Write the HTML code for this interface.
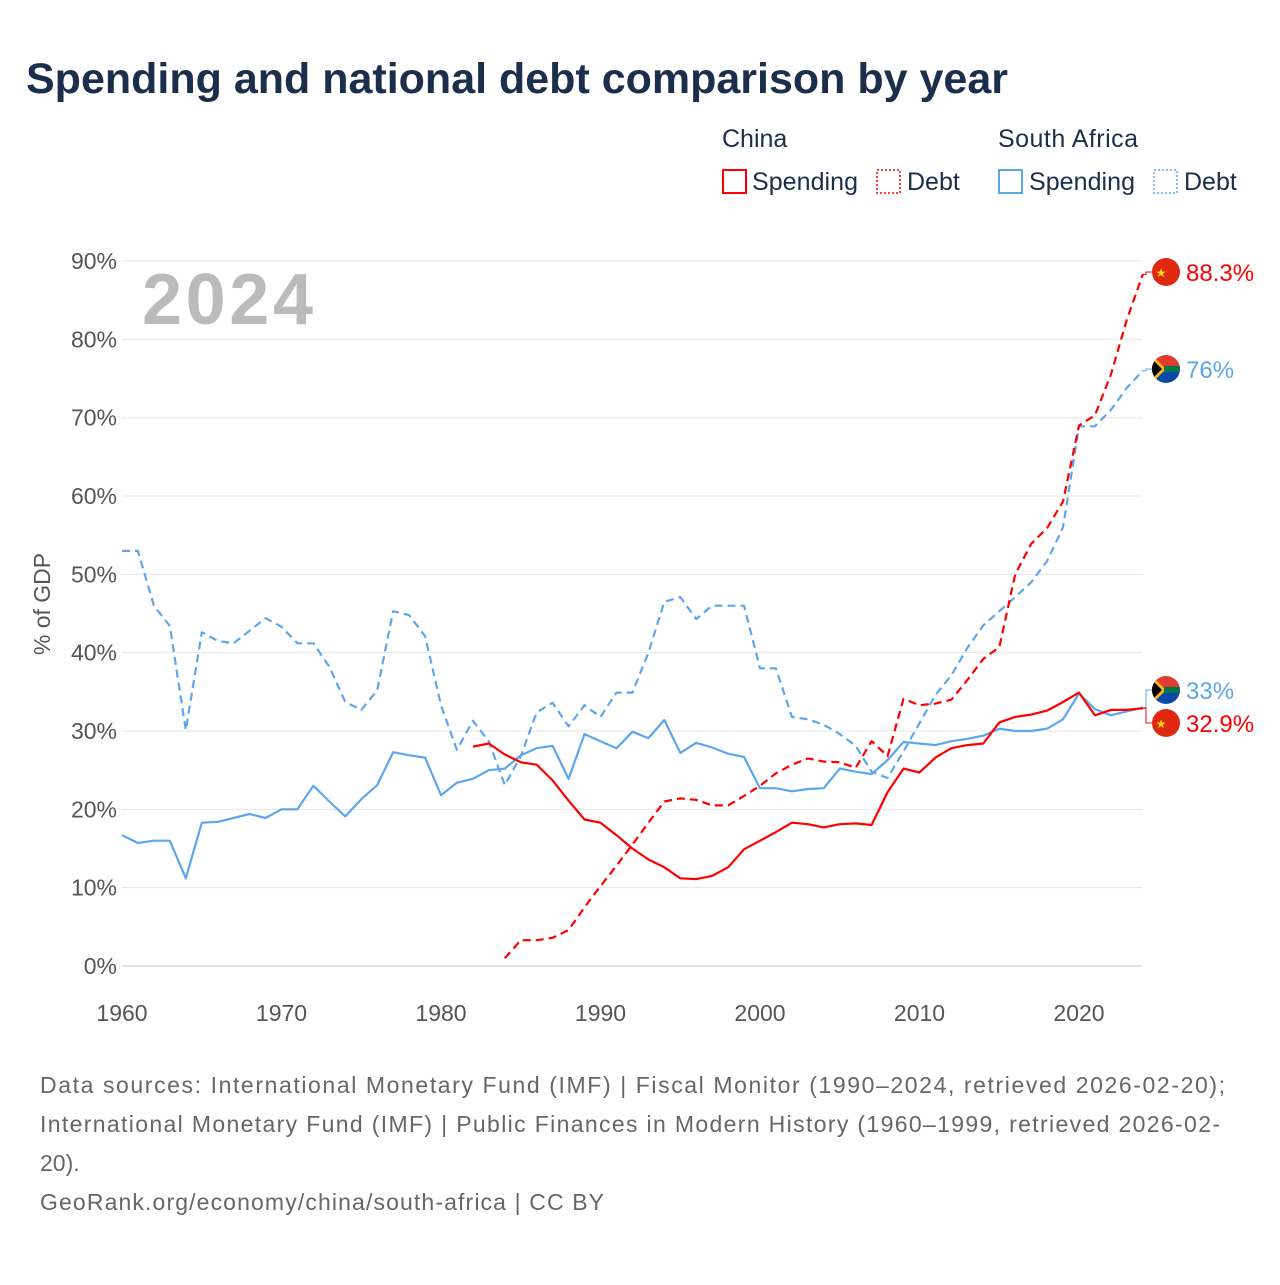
<!DOCTYPE html>
<html><head><meta charset="utf-8"><style>
body{margin:0;width:1280px;height:1280px;background:#fff;font-family:"Liberation Sans",sans-serif;overflow:hidden}
svg text{font-family:"Liberation Sans",sans-serif}
</style></head><body>
<svg id="chart" width="1280" height="1280" xmlns="http://www.w3.org/2000/svg">
<text x="26" y="93" font-size="43" font-weight="bold" fill="#1b2e4b">Spending and national debt comparison by year</text>
<g font-size="25" fill="#1b2e4b">
<text x="722" y="147" fill="#1b2e4b">China</text>
<text x="998" y="147" fill="#1b2e4b" textLength="140">South Africa</text>
<g><rect x="723" y="170" width="23" height="23" fill="none" stroke="#f00" stroke-width="2"/><text x="752" y="190" fill="#1b2e4b" textLength="106">Spending</text></g>
<g><rect x="877" y="170" width="23" height="23" fill="none" stroke="#f00" stroke-width="1.5" stroke-dasharray="2,2"/><text x="907" y="190" fill="#1b2e4b">Debt</text></g>
<g><rect x="999" y="170" width="23" height="23" fill="none" stroke="#5ea6ec" stroke-width="2"/><text x="1029" y="190" fill="#1b2e4b" textLength="106">Spending</text></g>
<g><rect x="1154" y="170" width="23" height="23" fill="none" stroke="#5ea6ec" stroke-width="1.5" stroke-dasharray="2,2"/><text x="1184" y="190" fill="#1b2e4b">Debt</text></g>
</g>
<g id="grid"></g>
<g id="yticks" font-size="23" fill="#555"></g>
<g id="xticks" font-size="23" fill="#555"></g>
<text x="142" y="324" font-size="72" font-weight="bold" fill="#bbb" textLength="171">2024</text>
<text transform="translate(50,604) rotate(-90)" text-anchor="middle" font-size="23" fill="#555">% of GDP</text>
<g id="series"></g>
<g id="labels"></g>
<g font-size="23" fill="#666">
<text x="40" y="1093" textLength="1185">Data sources: International Monetary Fund (IMF) | Fiscal Monitor (1990–2024, retrieved 2026-02-20);</text>
<text x="40" y="1132" textLength="1180">International Monetary Fund (IMF) | Public Finances in Modern History (1960–1999, retrieved 2026-02-</text>
<text x="40" y="1171">20).</text>
<text x="40" y="1210" textLength="564">GeoRank.org/economy/china/south-africa | CC BY</text>
</g>
</svg>
<script>
const yTicks=[0,10,20,30,40,50,60,70,80,90];
const xTicks=[1960,1970,1980,1990,2000,2010,2020];
const saDebtStart=1960;
const saDebt=[53,53,46,43.4,30.1,42.6,41.5,41.2,42.8,44.4,43.3,41.2,41.2,38.2,33.7,32.7,35.2,45.3,44.8,42.1,33.3,27.6,31.3,28.7,23.1,26.8,32.4,33.6,30.6,33.3,31.8,34.9,34.9,40,46.5,47.1,44.3,46,46,46,38,38,31.8,31.5,30.8,29.6,28.1,24.8,24,27.4,31,34.6,37.1,40.6,43.5,45.3,47.1,49,51.7,56,68.9,68.9,71,73.8,76];
const saSpendStart=1960;
const saSpend=[16.7,15.7,16,16,11.2,18.3,18.4,18.9,19.4,18.9,20,20,23,21,19.1,21.3,23.1,27.3,26.9,26.6,21.8,23.4,23.9,25,25.2,26.9,27.8,28.1,23.9,29.6,28.7,27.8,29.9,29.1,31.4,27.2,28.5,27.9,27.1,26.7,22.7,22.7,22.3,22.6,22.7,25.2,24.8,24.5,26.3,28.6,28.4,28.2,28.7,29,29.4,30.3,30,30,30.3,31.5,34.8,32.8,32,32.5,33];
const cnSpendStart=1982;
const cnSpend=[28,28.4,27,26,25.7,23.7,21.1,18.7,18.3,16.7,15,13.6,12.6,11.2,11.1,11.5,12.6,14.9,16,17.1,18.3,18.1,17.7,18.1,18.2,18,22.2,25.2,24.7,26.6,27.8,28.2,28.4,31.1,31.8,32.1,32.6,33.7,34.9,32,32.7,32.7,32.9];
const cnDebtStart=1984;
const cnDebt=[1,3.3,3.3,3.6,4.6,7.5,10.2,12.8,15.5,18.3,21,21.4,21.2,20.5,20.5,21.7,23,24.6,25.7,26.5,26.1,26,25.3,28.7,26.8,34.1,33.3,33.5,34,36.5,39.2,40.7,50,53.9,55.9,59.3,69,70.3,75.5,82.5,88.3];
const NS="http://www.w3.org/2000/svg";
const X=y=>122+(y-1960)*15.95;
const Y=v=>966-v*7.833;
function mk(t,a,p){const e=document.createElementNS(NS,t);for(const k in a)e.setAttribute(k,a[k]);p.appendChild(e);return e;}
const grid=document.getElementById('grid'),yt=document.getElementById('yticks'),xt=document.getElementById('xticks');
yTicks.forEach(v=>{
 const l=mk('line',{x1:122,x2:1142,y1:Y(v),y2:Y(v),stroke:v===0?'#ccc':'#e6e6e6','stroke-width':1},grid);
 
 
 const t=mk('text',{x:117,y:Y(v)+8,'text-anchor':'end'},yt);t.textContent=v+'%';
 
 
});
xTicks.forEach(y=>{
 const t=mk('text',{x:X(y),y:1021,'text-anchor':'middle'},xt);t.textContent=y;
 
 
});
const ser=document.getElementById('series');
function line(arr,start,color,dash,name){
 const d=arr.map((v,i)=>(i?'L':'M')+X(start+i).toFixed(1)+','+Y(v).toFixed(1)).join('');
 const p=mk('path',{d:d,fill:'none',stroke:color,'stroke-width':2.2,'stroke-dasharray':dash||'none','stroke-linejoin':'round'},ser);
 
 
}
line(saDebt,saDebtStart,'#5ea6ec','8,5','line-south-africa-debt');
line(saSpend,saSpendStart,'#5ea6ec','','line-south-africa-spending');
line(cnDebt,cnDebtStart,'#f00','8,5','line-china-debt');
line(cnSpend,cnSpendStart,'#f00','','line-china-spending');
const lab=document.getElementById('labels');
function flag(cx,cy,cn,g){
 if(cn){mk('circle',{cx:cx,cy:cy,r:14,fill:'#de2910'},g);const s=mk('text',{x:cx-5,y:cy+5,'font-size':12,fill:'#ffde00','text-anchor':'middle'},g);s.textContent='★';}
 else{
  const cid='c'+Math.round(cy);
  const cp=mk('clipPath',{id:cid},g);mk('circle',{cx:cx,cy:cy,r:14},cp);
  const f=mk('g',{'clip-path':'url(#'+cid+')'},g);
  mk('rect',{x:cx-14,y:cy-14,width:28,height:14,fill:'#e03c31'},f);
  mk('rect',{x:cx-14,y:cy,width:28,height:14,fill:'#0a49a8'},f);
  mk('path',{d:`M${cx-14},${cy-14}L${cx},${cy}L${cx-14},${cy+14}Z`,fill:'#ffb612'},f);
  mk('rect',{x:cx-2,y:cy-3,width:16,height:6,fill:'#007749'},f);
  mk('path',{d:`M${cx-14},${cy-10}L${cx-4},${cy}L${cx-14},${cy+10}Z`,fill:'#000'},f);
 }
}
function endLabel(v,ly,cn,txt,name){
 const g=mk('g',{},lab);
 
 
 const c=cn?'#f00':'#5ea6ec';
 mk('path',{d:`M1142,${Y(v)}L1146,${Y(v)}L1146,${ly}L1152,${ly}`,fill:'none',stroke:c,'stroke-width':1},g);
 flag(1166,ly,cn,g);
 const t=mk('text',{x:1186,y:ly+9,'font-size':24,fill:c},g);t.textContent=txt;
}
endLabel(cnDebt[cnDebt.length-1],272,true,'88.3%','label-china-debt');
endLabel(saDebt[saDebt.length-1],369,false,'76%','label-sa-debt');
endLabel(saSpend[saSpend.length-1],690,false,'33%','label-sa-spending');
endLabel(cnSpend[cnSpend.length-1],723,true,'32.9%','label-china-spending');
</script>
</body></html>
